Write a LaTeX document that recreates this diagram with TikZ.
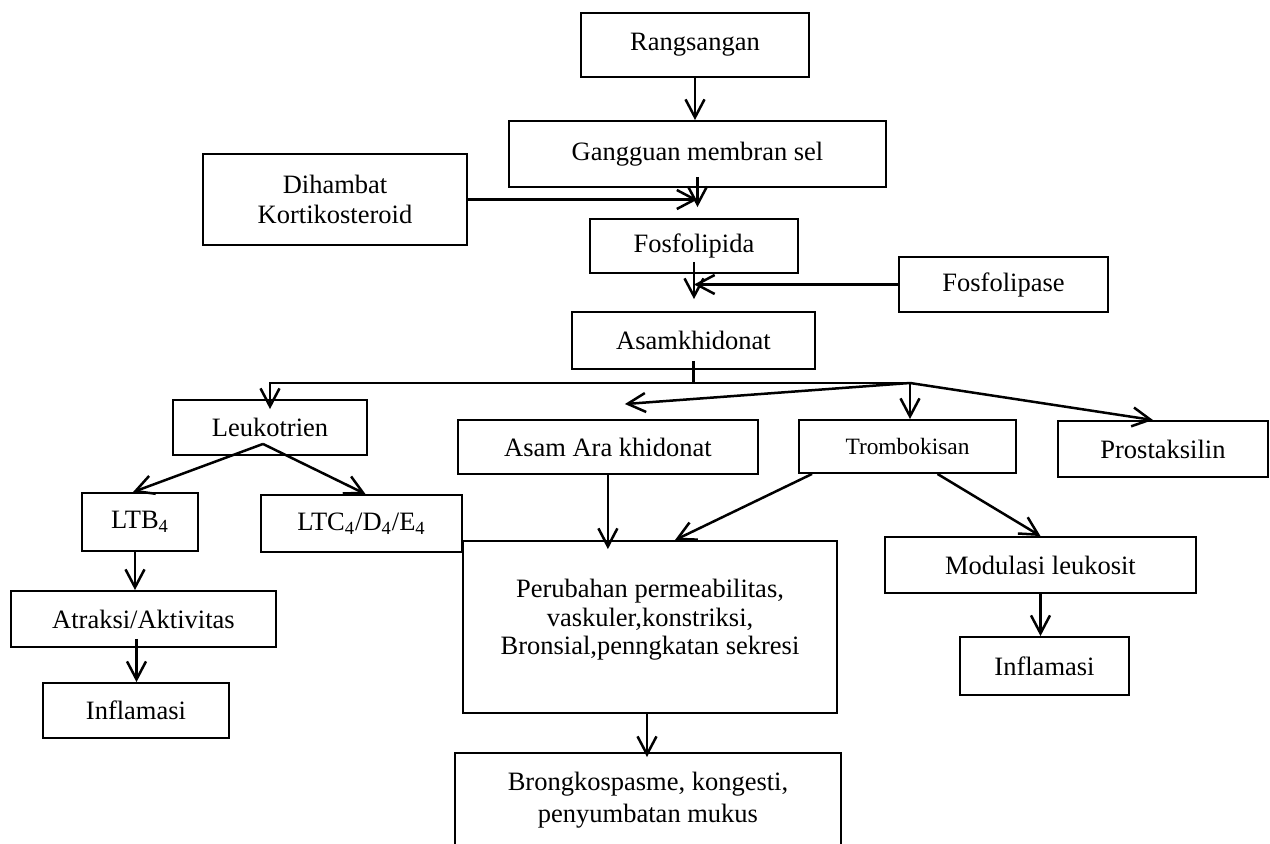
\documentclass[tikz,border=0pt]{standalone}
\usepackage{fontspec}
\setmainfont{Liberation Serif}
\usepackage{tikz}
\usetikzlibrary{positioning,calc,arrows.meta}

\begin{document}
\begin{tikzpicture}[x=0.5pt,y=-0.5pt,
    font=\fontsize{13.25}{15}\selectfont,
    box/.style={draw, line width=0.95pt, inner sep=2pt, align=center},
    arr/.style={-{Straight Barb[length=9pt,width=9.5pt]}, line width=1.25pt},
    ln/.style={line width=1.25pt}]
  \useasboundingbox (0,0) rectangle (1270,844);
  % upper chain
  \node[box, minimum width=114pt, minimum height=32pt] (rang) at (695,45) {Rangsangan};
  \node[box, minimum width=188.5pt, minimum height=33pt] (gang) at (697.5,154) {Gangguan membran sel};
  \node[box, minimum width=132pt, minimum height=45.5pt] (dih) at (335,199.5) {Dihambat\\Kortikosteroid};
  \node[box, minimum width=104pt, minimum height=27pt] (fosf) at (694,246) {Fosfolipida};
  \node[box, minimum width=104.5pt, minimum height=27.5pt] (fosfase) at (1003.5,284.5) {Fosfolipase};
  \node[box, minimum width=121.5pt, minimum height=28.5pt] (asam) at (693.5,340.5) {Asamkhidonat};
  % second row
  \node[box, minimum width=97pt, minimum height=27.5pt] (leuk) at (270,427.5) {Leukotrien};
  \node[box, minimum width=150pt, minimum height=27pt] (ara) at (607.9,447) {Asam Ara khidonat};
  \node[box, minimum width=108.5pt, minimum height=26.5pt, font=\fontsize{11.7}{14}\selectfont] (tromb) at (907.5,446.5) {Trombokisan};
  \node[box, minimum width=105pt, minimum height=28pt] (pros) at (1163,449) {Prostaksilin};
  % leukotrien branch
  \node[box, minimum width=58pt, minimum height=29pt] (ltb) at (140,522) {LTB\textsubscript{4}};
  \node[box, minimum width=100.5pt, minimum height=28.5pt] (ltc) at (361.5,523.5) {LTC\textsubscript{4}/D\textsubscript{4}/E\textsubscript{4}};
  \node[box, minimum width=132.5pt, minimum height=28pt] (atr) at (143.5,619) {Atraksi/Aktivitas};
  \node[box, minimum width=93pt, minimum height=27.5pt] (infL) at (136,710.5) {Inflamasi};
  % middle and right
  \node[box, minimum width=187pt, minimum height=86pt,
    label={[align=center, yshift=3.5pt, font=\fontsize{13.25}{14.25}\selectfont]center:Perubahan permeabilitas,\\vaskuler,konstriksi,\\Bronsial,penngkatan sekresi}] (per) at (650,627) {};
  \node[box, minimum width=193pt, minimum height=47.5pt, font=\fontsize{13.25}{16}\selectfont] (brong) at (648,800.5) {Brongkospasme, kongesti,\\penyumbatan mukus};
  \node[box, minimum width=155.5pt, minimum height=28pt] (mod) at (1040.5,565) {Modulasi leukosit};
  \node[box, minimum width=84.5pt, minimum height=29pt] (infR) at (1044.5,666) {Inflamasi};

  % arrows down the chain
  \draw[arr] (rang.south) -- (rang.south |- gang.north);
  \draw[arr] ([yshift=5.5pt]gang.south) -- ([yshift=5.5pt]gang.south |- fosf.north);
  \draw[arr] (dih.east) -- (dih.east -| gang.south);
  \draw[arr] ([yshift=6pt]fosf.south) -- ([yshift=6pt]fosf.south |- asam.north);
  \draw[arr] (fosfase.west) -- (fosfase.west -| fosf.south);
  % split below asamkhidonat
  \coordinate (hub) at (910,383);
  \coordinate (araend) at ([xshift=8.5pt,yshift=7.5pt]ara.north);
  \draw[ln] ([yshift=4.5pt]asam.south) -- (asam.south |- hub);
  \draw[arr] (hub) -| ([yshift=-5pt]leuk.north);
  \draw[arr] (hub) -- (araend);
  \draw[arr] (hub) -- (hub |- tromb.north);
  \draw[arr] (hub) -- ([xshift=-5pt]pros.north);
  % leukotrien
  \draw[arr] ([xshift=-3.5pt,yshift=6pt]leuk.south) -- ([xshift=-3.5pt]ltb.north);
  \draw[arr] ([xshift=-3.5pt,yshift=6pt]leuk.south) -- ([xshift=2pt]ltc.north);
  \draw[arr] ([xshift=-2.5pt]ltb.south) -- ([xshift=-2.5pt]ltb.south |- atr.north);
  \draw[arr] ([xshift=-3.5pt,yshift=4.5pt]atr.south) -- ([xshift=-3.5pt]atr.south |- infL.north);
  % to perubahan and modulasi
  \draw[arr] (ara.south) -- ([yshift=-4.5pt]ara.south |- per.north);
  \draw[arr] ([xshift=7pt]tromb.south west) -- ([xshift=12.5pt]per.north);
  \draw[arr] ([xshift=15pt]tromb.south) -- (mod.north);
  \draw[arr] (mod.south) -- (mod.south |- infR.north);
  \draw[arr] ([xshift=-1.5pt]per.south) -- ([xshift=-1.5pt,yshift=-2.5pt]per.south |- brong.north);
\end{tikzpicture}
\end{document}
